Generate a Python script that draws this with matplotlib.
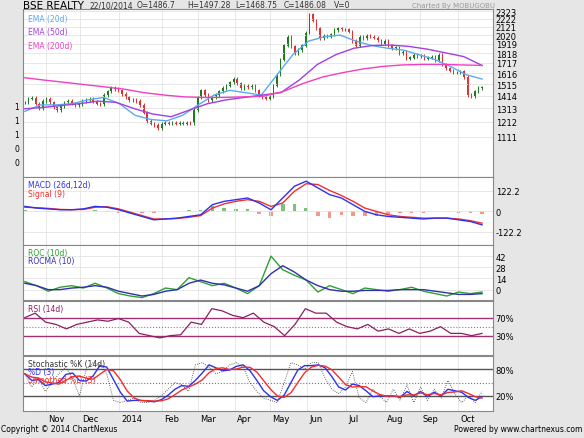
import numpy as np
import matplotlib
matplotlib.use('Agg')
import matplotlib.pyplot as plt
from matplotlib.ticker import NullFormatter, FixedLocator

# Closing prices (sampled roughly every 2 trading days)
closes = [1360, 1390, 1395, 1350, 1310, 1370, 1390, 1360, 1320, 1300, 1330, 1360, 1370, 1350, 1340,
          1345, 1370, 1380, 1390, 1365, 1350, 1345, 1420, 1450, 1480, 1470,
          1460, 1430, 1400, 1380, 1380, 1370, 1340, 1280, 1220, 1200, 1190, 1170,
          1200, 1210, 1200, 1210, 1200, 1205, 1200, 1210, 1205,
          1300, 1400, 1460, 1420, 1380, 1400, 1420, 1450, 1480, 1500, 1530,
          1560, 1520, 1480, 1500, 1490, 1500, 1460, 1420, 1400, 1390, 1410,
          1500, 1600, 1750, 1900, 2000, 1890, 1820, 1850, 1900, 2050, 2280,
          2200, 2100, 1980, 2010, 2000, 2030, 2080, 2100, 2090, 2090,
          2060, 1950, 1900, 2000, 1980, 2010, 2000, 1990, 1960, 1920,
          1950, 1900, 1870, 1880, 1820, 1830, 1760, 1770, 1800, 1780,
          1790, 1760, 1770, 1780, 1740, 1800, 1700, 1660, 1640, 1620, 1620,
          1630, 1580, 1420, 1410, 1450, 1480, 1486]
ema20 = [1290, 1340, 1340, 1350, 1380, 1400, 1350, 1260, 1230, 1220, 1260, 1340, 1420, 1460, 1440,
         1420, 1600, 1800, 1950, 2000, 2020, 1950, 1900, 1870, 1850, 1800, 1750, 1680, 1600, 1560]
ema50 = [1310, 1320, 1335, 1350, 1370, 1360, 1310, 1270, 1250, 1300, 1350, 1380, 1400, 1420, 1440,
         1550, 1700, 1800, 1870, 1900, 1905, 1890, 1860, 1820, 1780, 1690]
ema200 = [1572, 1550, 1530, 1510, 1490, 1470, 1440, 1420, 1405, 1400, 1400, 1405, 1410, 1450,
          1520, 1580, 1620, 1655, 1680, 1695, 1700, 1700, 1695, 1690]
macd = [30, 20, 15, 10, 10, 15, 30, 25, 10, -10, -30, -50, -45, -40, -30, -20, 40, 60, 70, 80,
        50, 10, 80, 150, 180, 140, 100, 80, 40, 0, -20, -30, -35, -40, -45, -40, -40, -50, -60, -80]
signal = [25, 22, 18, 12, 10, 12, 25, 28, 15, -5, -25, -45, -45, -42, -35, -25, 20, 45, 60, 70,
          60, 30, 50, 120, 165, 160, 125, 95, 60, 20, 0, -20, -30, -35, -40, -40, -40, -45, -55, -70]
roc = [10, 5, -2, 3, 5, 2, 8, 2, -5, -8, -10, -5, 2, 0, 15, 10, 5, 8, 2, -5, 5, 42, 25, 18, 12,
       -3, 5, 0, -5, 2, 0, -2, 0, 3, -2, -5, -8, -3, -5, -3]
rocma = [8, 5, 0, 0, 2, 3, 5, 3, -2, -5, -8, -6, -2, 0, 8, 12, 8, 6, 2, -2, 5, 20, 30, 22, 12,
         5, 0, -2, -2, -1, -1, -1, 0, 0, 0, -2, -4, -6, -6, -5]
rsi = [70, 80, 60, 55, 45, 55, 60, 65, 62, 68, 60, 35, 30, 25, 30, 32, 60, 55, 90, 85, 75, 70, 80,
       60, 50, 30, 55, 90, 80, 80, 60, 50, 45, 55, 40, 45, 35, 45, 35, 40, 50, 35, 35, 30, 35]
stoch_k = [70, 40, 60, 30, 50, 70, 85, 60, 20, 80, 95, 90, 70, 10, 5, 10, 15, 5, 5, 10, 20, 35, 50,
           45, 30, 90, 95, 85, 70, 75, 90, 95, 85, 50, 30, 15, 10, 5, 50, 95, 90, 80, 95, 95, 60,
           35, 25, 40, 75, 15, 5, 35, 20, 5, 35, 10, 45, 5, 40, 10, 35, 15, 55, 25, 5, 20, 5, 30]
months = ['Nov', 'Dec', '2014', 'Feb', 'Mar', 'Apr', 'May', 'Jun', 'Jul', 'Aug', 'Sep', 'Oct']
month_pos = [6.4, 16, 26.8, 38.7, 48.7, 58.9, 68.6, 79.1, 89.9, 100.7, 110.4, 120.9]
price_ticks = [1111, 1212, 1313, 1414, 1515, 1616, 1717, 1818, 1919, 2020, 2121, 2222, 2323]

W, H = 584, 439
n = len(closes)
xmax = n - 1

def span(arr):
    return np.linspace(0, xmax, len(arr))

def rmean(a, k=3):
    a = np.asarray(a, float)
    out = a.copy()
    for i in range(len(a)):
        out[i] = a[max(0, i - k + 1):i + 1].mean()
    return out

fig = plt.figure(figsize=(W / 100, H / 100), dpi=100, facecolor='#e6e6e6')
plt.rcParams['font.family'] = 'DejaVu Sans'

def panel(top, bottom):
    ax = fig.add_axes([23 / W, 1 - bottom / H, 470 / W, (bottom - top) / H])
    ax.set_facecolor('white')
    ax.set_xlim(-0.5, 470 / 459 * 127)
    ax.xaxis.set_major_locator(FixedLocator([p - 0.6 for p in month_pos]))
    ax.xaxis.set_major_formatter(NullFormatter())
    ax.grid(True, color='#e4e4e4', lw=0.6)
    ax.tick_params(length=0, labelsize=6, pad=2)
    ax.yaxis.tick_right()
    for s in ax.spines.values():
        s.set_color('#888888')
    return ax

# price panel
ax = panel(10, 178)
ax.set_yscale('log')
ax.set_ylim(877, 2355)
ax.yaxis.set_major_locator(FixedLocator(price_ticks))
ax.yaxis.set_minor_locator(FixedLocator([]))
ax.set_yticklabels([str(t) for t in price_ticks])
opens = [closes[0]] + closes[:-1]
for i, (o, c) in enumerate(zip(opens, closes)):
    col = '#1f7a1f' if c >= o else '#e03030'
    lo, hi = min(o, c), max(o, c)
    ax.vlines(i, lo * 0.99, hi * 1.01, color=col, lw=0.7)
    ax.bar(i, hi - lo + 1, bottom=lo, width=0.4, color=col)
ax.plot(span(ema20), ema20, color='#5aaaf0', lw=1)
ax.plot(span(ema50), ema50, color='#a040e0', lw=1)
ax.plot(span(ema200), ema200, color='#f040c0', lw=1)
ax.text(0.01, 0.97, 'EMA (20d)', color='#5aaaf0', fontsize=5.5, transform=ax.transAxes, va='top')
ax.text(0.01, 0.89, 'EMA (50d)', color='#a040e0', fontsize=5.5, transform=ax.transAxes, va='top')
ax.text(0.01, 0.81, 'EMA (200d)', color='#f040c0', fontsize=5.5, transform=ax.transAxes, va='top')
for yy, t in zip([108, 122, 136, 150, 164], ['1', '1', '1', '0', '0']):
    fig.text(19 / W, 1 - yy / H, t, fontsize=5.5, ha='right', va='center')

# MACD
ax = panel(178, 246)
ax.set_ylim(-200, 205)
ax.set_yticks([-122.2, 0, 122.2])
ax.set_yticklabels(['-122.2', '0', '122.2'])
hist = np.array(macd) - np.array(signal)
xs = span(macd)
ax.bar(xs, hist * 1.5, width=1.0, color=['#60b060' if h >= 0 else '#f08070' for h in hist], alpha=0.8)
ax.plot(xs, signal, color='#f03030', lw=1)
ax.plot(xs, macd, color='#3030f0', lw=1)
ax.text(0.01, 0.95, 'MACD (26d,12d)', color='#3030f0', fontsize=5.5, transform=ax.transAxes, va='top')
ax.text(0.01, 0.82, 'Signal (9)', color='#f03030', fontsize=5.5, transform=ax.transAxes, va='top')

# ROC
ax = panel(246, 301)
ax.set_ylim(-13, 56)
ax.set_yticks([0, 14, 28, 42])
ax.plot(span(roc), roc, color='#30a030', lw=1)
ax.plot(span(rocma), rocma, color='#3030b0', lw=1)
ax.text(0.01, 0.95, 'ROC (10d)', color='#30a030', fontsize=5.5, transform=ax.transAxes, va='top')
ax.text(0.01, 0.80, 'ROCMA (10)', color='#3030b0', fontsize=5.5, transform=ax.transAxes, va='top')

# RSI
ax = panel(302, 356)
ax.set_ylim(-13, 107)
ax.set_yticks([30, 70])
ax.set_yticklabels(['30%', '70%'])
ax.axhline(70, color='#a03070', lw=1)
ax.axhline(30, color='#a03070', lw=1)
ax.axhline(50, color='#c06090', lw=0.8, ls=':')
ax.plot(span(rsi), rsi, color='#8a2060', lw=0.9)
ax.text(0.01, 0.95, 'RSI (14d)', color='#8a2060', fontsize=5.5, transform=ax.transAxes, va='top')

# Stochastic
ax = panel(357, 412)
ax.set_ylim(-14, 110)
ax.set_yticks([20, 80])
ax.set_yticklabels(['20%', '80%'])
ax.axhline(80, color='#555555', lw=1)
ax.axhline(20, color='#555555', lw=1)
ax.axhline(50, color='#777777', lw=0.8, ls=':')
xs = span(stoch_k)
pd_ = rmean(stoch_k)
sd = rmean(pd_)
ax.plot(xs, stoch_k, color='#333333', lw=0.6, ls=':')
ax.plot(xs, pd_, color='#3030f0', lw=1)
ax.plot(xs, sd, color='#f03030', lw=1)
ax.text(0.01, 0.95, 'Stochastic %K (14d)', color='#333333', fontsize=5.5, transform=ax.transAxes, va='top')
ax.text(0.01, 0.80, '%D (3)', color='#3030f0', fontsize=5.5, transform=ax.transAxes, va='top')
ax.text(0.01, 0.65, 'Smoothed %D (3)', color='#f03030', fontsize=5.5, transform=ax.transAxes, va='top')
for m, p in zip(months, month_pos):
    ax.text(p, -0.05, m, transform=ax.get_xaxis_transform(), fontsize=6, va='top', ha='left')

# header / footer
fig.text(23 / W, 1 - 6 / H, 'BSE REALTY', fontsize=7.5, va='center')
for x, t in [(89, '22/10/2014'), (137, 'O=1486.7'), (187, 'H=1497.28'), (235, 'L=1468.75'),
             (284, 'C=1486.08'), (334, 'V=0')]:
    fig.text(x / W, 1 - 6 / H, t, fontsize=5.5, va='center', color='#333333')
fig.text(495 / W, 1 - 6 / H, 'Charted By MOBUGOBU', fontsize=5, va='center', ha='right', color='#999999')
fig.text(1 / W, 1 - 430 / H, 'Copyright \u00a9 2014 ChartNexus', fontsize=5.5, va='center')
fig.text(582 / W, 1 - 430 / H, 'Powered by www.chartnexus.com', fontsize=5.5, va='center', ha='right')

fig.savefig('out.png', dpi=100, facecolor=fig.get_facecolor())
